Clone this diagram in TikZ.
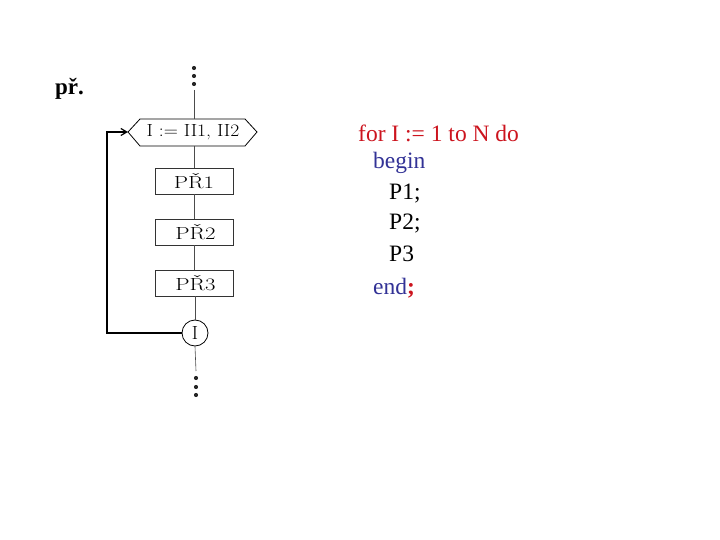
\documentclass[tikz,border=0pt]{standalone}
\usepackage{fontspec}
\newfontfamily\codefont{Liberation Serif}
\usetikzlibrary{arrows.meta}
\definecolor{kwred}{RGB}{204,20,30}
\definecolor{kwblue}{RGB}{50,50,150}
\tikzset{
  flow/.style={draw=black!70, line width=0.6pt},
  procbox/.style={draw=black!80, line width=0.8pt, minimum width=78pt, minimum height=26pt, inner sep=0pt, font=\fontsize{17.5}{17.5}\selectfont},
  dotmark/.style={circle, fill=black!85, inner sep=0pt, minimum size=4.2pt},
  code/.style={anchor=west, inner sep=0pt, font=\codefont\fontsize{23.5}{23.5}\selectfont},
}
\begin{document}
\begin{tikzpicture}[x=1pt,y=-1pt]
\useasboundingbox (0,0) rectangle (720,540);
\node[font=\codefont\bfseries\fontsize{23}{23}\selectfont, anchor=west, inner sep=0pt] (pr) at (55,89) {př.};
% top dots
\node[dotmark] (t1) at (194,68) {};
\node[dotmark] (t2) at (194,76) {};
\node[dotmark] (t3) at (194,84) {};
\coordinate (ttop) at (194,90);
% hexagon
\coordinate (hl) at (128,132);
\draw[line width=0.8pt] (128,132) -- (140,119) -- (245,119) -- (257,132) -- (245,146) -- (140,146) -- cycle;
\node[font=\fontsize{17.5}{17.5}\selectfont, inner sep=0pt] (hex) at (193,132) {\scalebox{1.12}[1]{I := II1, II2}};
\coordinate (htop) at (194,119);
\coordinate (hbot) at (194,146);
\node[procbox] (p1) at (194,181) {\scalebox{1.3}[1]{PŘ1}};
\node[procbox] (p2) at (194,232) {\,\scalebox{1.3}[1]{PŘ2}};
\node[procbox] (p3) at (194,283) {\,\scalebox{1.3}[1]{PŘ3}};
\node[draw=black, line width=0.8pt, circle, minimum size=26pt, inner sep=0pt, font=\fontsize{19}{19}\selectfont] (ci) at (195,333) {I};
\node[dotmark] (b1) at (196,378) {};
\node[dotmark] (b2) at (196,387) {};
\node[dotmark] (b3) at (196,395) {};
\coordinate (bend) at (196,371);
% connectors
\draw[flow] (ttop) -- (htop);
\draw[flow] (hbot) -- (p1.north);
\draw[flow] (p1.south) -- (p2.north);
\draw[flow] (p2.south) -- (p3.north);
\draw[flow] (p3.south -| ci) -- (ci.north);
\draw[flow] (ci.south) -- (bend);
\draw[line width=1.2pt, -{Straight Barb[length=6pt,width=7pt]}] (ci.west) -- (107,333) -- (107,132) -- (hl);
% code
\node[code, text=kwred] (c1) at (358,133) {for I := 1 to N do};
\node[code, text=kwblue] (c2) at (373,163) {begin};
\node[code] (c3) at (389,194) {P1;};
\node[code] (c4) at (389,224) {P2;};
\node[code] (c5) at (389,254) {P3};
\node[code] (c6) at (373,288) {\textcolor{kwblue}{end}\textcolor{kwred}{\textbf{;}}};
\end{tikzpicture}
\end{document}
